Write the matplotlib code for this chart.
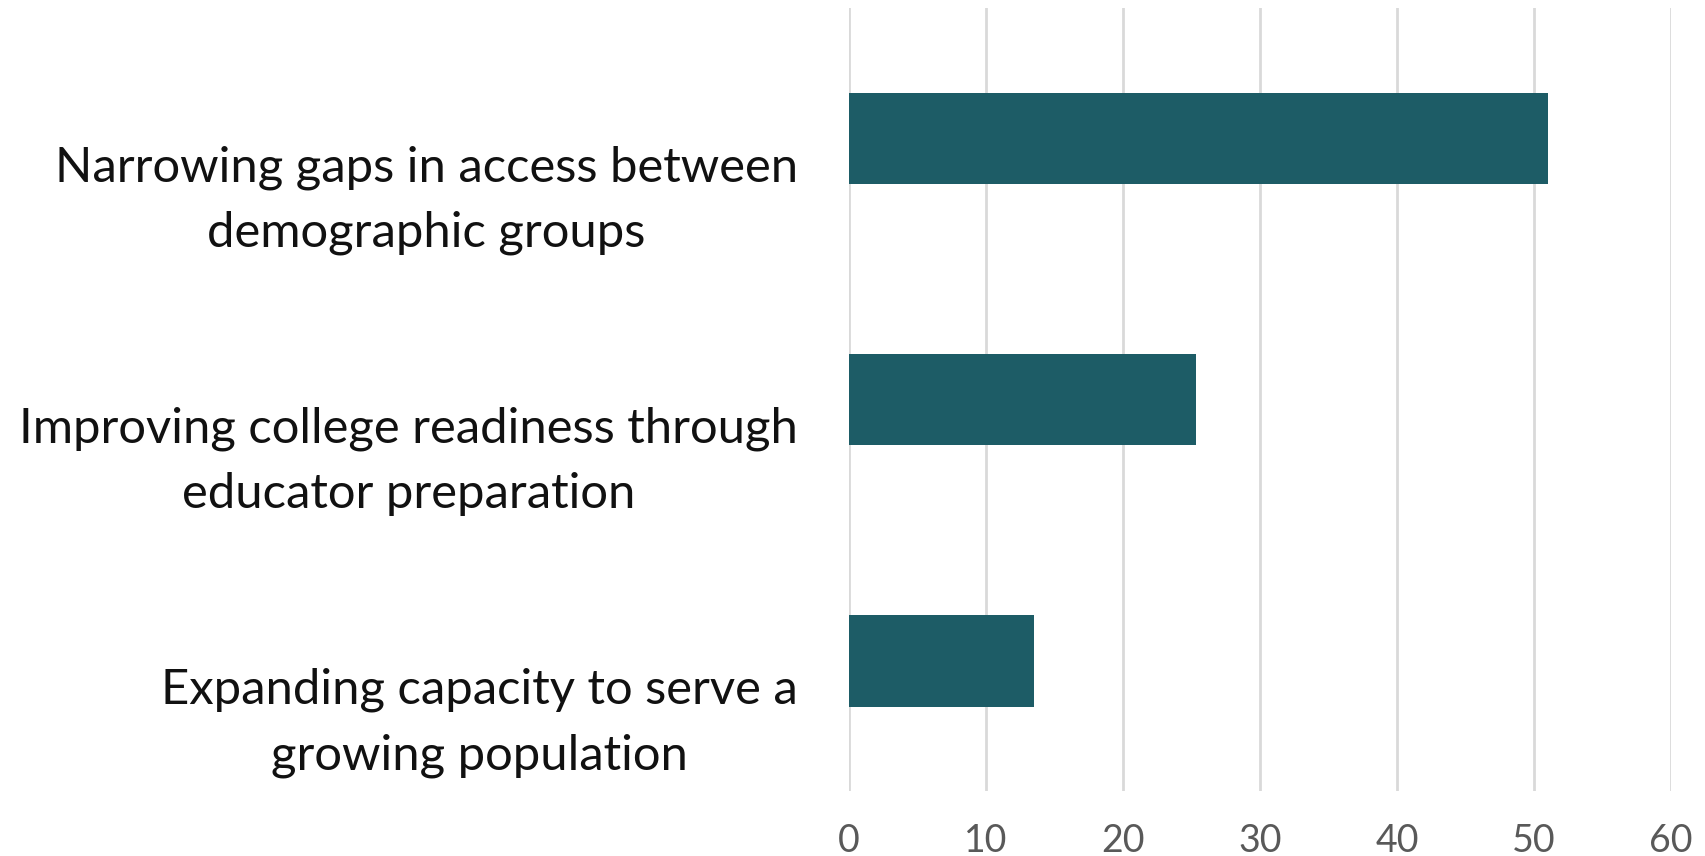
import matplotlib.pyplot as plt

# data
categories = [
    "Narrowing gaps in access between\ndemographic groups",
    "Improving college readiness through\neducator preparation",
    "Expanding capacity to serve a\ngrowing population",
]
values = [51, 25.3, 13.5]
x_ticks = [0, 10, 20, 30, 40, 50, 60]

plt.rcParams['font.family'] = ['Lato', 'DejaVu Sans']

fig = plt.figure(figsize=(17.05, 8.56), dpi=100)
ax = fig.add_axes([0.498, 0.0754, 0.482, 0.9156])

ypos = list(range(len(categories)))
ax.barh(ypos, values, height=0.35, color='#1D5C66', zorder=3)

ax.set_ylim(len(categories) - 0.5, -0.5)
ax.set_xlim(0, 60)
ax.set_xticks(x_ticks)
ax.set_yticks([])

# category labels sit a bit below the bar centres in the original
for y, cat in zip(ypos, categories):
    ax.annotate(cat, xy=(0, y), xycoords=('axes fraction', 'data'),
                xytext=(-37, -44.5), textcoords='offset points',
                ha='right', va='center', multialignment='center',
                fontsize=35.3, color='#111111', linespacing=1.58)

ax.xaxis.grid(True, color='#D9D9D9', linewidth=2, zorder=0)
ax.tick_params(axis='x', length=0, pad=23, labelsize=27, labelcolor='#595959')
for s in ax.spines.values():
    s.set_visible(False)

fig.savefig('out.png', dpi=100)
